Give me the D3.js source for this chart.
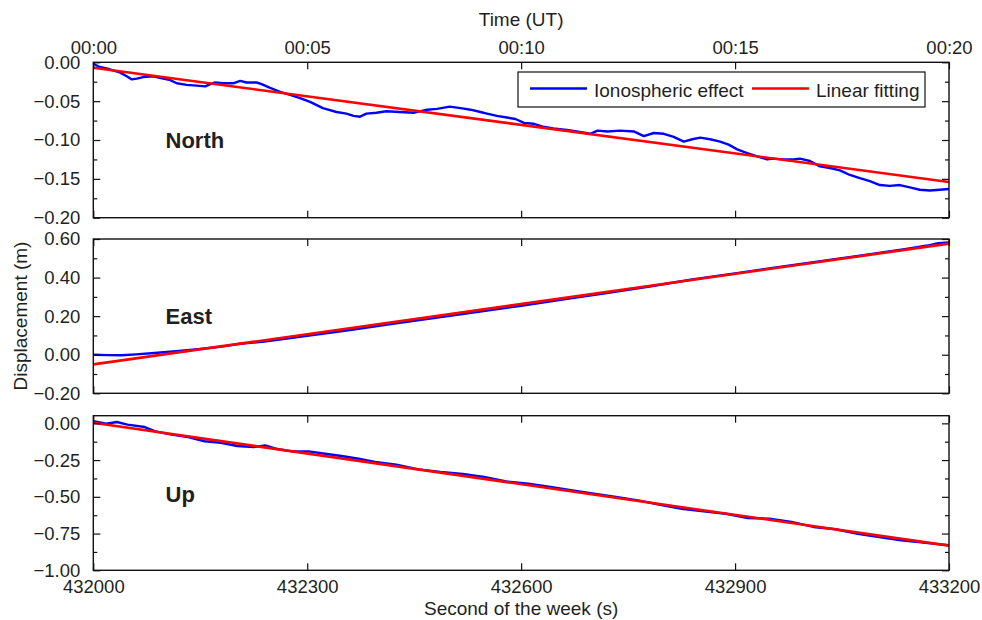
<!DOCTYPE html>
<html>
<head>
<meta charset="utf-8">
<script src="https://cdn.jsdelivr.net/npm/d3@7"></script>
<style>
  html, body { margin: 0; padding: 0; background: #fff; }
  svg { display: block; }
  text { font-family: "Liberation Sans", Arial, Helvetica, sans-serif; fill: #231f20; }
</style>
</head>
<body>
<svg id="chart" width="982" height="620"></svg>
<script>
// Time axis (second of the GPS week) and matching UT clock labels
const xTicks = [432000, 432300, 432600, 432900, 433200];
const utLabels = ["00:00", "00:05", "00:10", "00:15", "00:20"];

// North component: ionospheric displacement (m)
const northSec = [432000,432009,432023,432037,432047,432054,432061,432070,432084,432098,432108,432117,432131,432145,432157,432164,432171,432182,432196,432206,432215,432229,432236,432248,432262,432276,432290,432304,432322,432341,432355,432365,432374,432383,432397,432411,432430,432449,432468,432482,432500,432515,432529,432543,432552,432566,432580,432592,432604,432617,432631,432645,432664,432678,432697,432707,432721,432739,432758,432772,432786,432800,432814,432828,432840,432851,432865,432879,432891,432903,432917,432931,432945,432954,432968,432982,432991,433005,433019,433033,433047,433061,433075,433089,433103,433117,433131,433145,433159,433173,433187,433200];
const northVal = [-0.002,-0.006,-0.009,-0.013,-0.018,-0.022,-0.021,-0.019,-0.018,-0.021,-0.023,-0.027,-0.029,-0.030,-0.031,-0.028,-0.026,-0.027,-0.027,-0.024,-0.026,-0.026,-0.028,-0.033,-0.038,-0.042,-0.046,-0.051,-0.059,-0.064,-0.066,-0.069,-0.070,-0.066,-0.065,-0.063,-0.064,-0.065,-0.061,-0.060,-0.057,-0.059,-0.061,-0.064,-0.066,-0.069,-0.071,-0.073,-0.078,-0.079,-0.083,-0.085,-0.087,-0.089,-0.092,-0.088,-0.089,-0.088,-0.089,-0.095,-0.091,-0.092,-0.096,-0.102,-0.099,-0.097,-0.099,-0.102,-0.106,-0.112,-0.117,-0.121,-0.125,-0.124,-0.125,-0.125,-0.124,-0.127,-0.134,-0.136,-0.139,-0.145,-0.149,-0.153,-0.158,-0.159,-0.158,-0.161,-0.164,-0.165,-0.164,-0.163];

// East component
const eastSec = [432000,432020,432040,432060,432090,432120,432150,432180,432206,432240,432300,432360,432420,432480,432540,432600,432660,432720,432780,432840,432900,432960,433020,433080,433140,433170,433185,433200];
const eastVal = [0.000,-0.002,-0.003,0.002,0.010,0.020,0.030,0.042,0.057,0.068,0.098,0.128,0.160,0.192,0.223,0.254,0.287,0.320,0.354,0.390,0.422,0.454,0.485,0.516,0.549,0.566,0.578,0.582];

// Up component
const upSec = [432000,432018,432033,432048,432072,432087,432110,432133,432156,432179,432202,432225,432241,432256,432279,432302,432325,432348,432372,432395,432425,432456,432487,432518,432548,432579,432610,432641,432672,432702,432733,432764,432795,432825,432856,432887,432918,432948,432979,433010,433041,433072,433102,433133,433164,433200];
const upVal = [0.014,-0.003,0.009,-0.009,-0.025,-0.055,-0.077,-0.093,-0.122,-0.132,-0.154,-0.161,-0.150,-0.173,-0.191,-0.191,-0.207,-0.222,-0.241,-0.263,-0.282,-0.313,-0.331,-0.345,-0.365,-0.395,-0.411,-0.433,-0.456,-0.479,-0.501,-0.524,-0.554,-0.581,-0.599,-0.615,-0.644,-0.649,-0.671,-0.705,-0.721,-0.751,-0.773,-0.796,-0.812,-0.830];

// Linear fits: values at the start and end of the interval
const fitSec = [432000, 433200];
const northFit = [-0.007, -0.154];
const eastFit = [-0.050, 0.576];
const upFit = [0.004, -0.832];

// Panel definitions
const panelNames = ["North", "East", "Up"];
const panelDomains = [[-0.20, 0.00], [-0.20, 0.60], [-1.00, 0.052]];
const majorTicks = [
  [-0.20, -0.15, -0.10, -0.05, 0.00],
  [-0.20, 0.00, 0.20, 0.40, 0.60],
  [-1.00, -0.75, -0.50, -0.25, 0.00]
];
const minorTicks = [
  [-0.175, -0.125, -0.075, -0.025],
  [-0.10, 0.10, 0.30, 0.50],
  [-0.875, -0.625, -0.375, -0.125]
];
const legendLabels = ["Ionospheric effect", "Linear fitting"];
const seriesColors = ["#0000ff", "#ff0000"];

const svg = d3.select("#chart");
const left = 93.3, right = 949;
const panelBox = [[62.3, 217.7], [239, 393.3], [415.7, 570.3]];
const tickFont = 18.5;
const titleFont = 19;

const x = d3.scaleLinear().domain([432000, 433200]).range([left, right]);

const series = [
  { sec: northSec, val: northVal, fit: northFit },
  { sec: eastSec, val: eastVal, fit: eastFit },
  { sec: upSec, val: upVal, fit: upFit }
];

const nameY = [148.3, 324.3, 501.7];

series.forEach((s, i) => {
  const [top, bottom] = panelBox[i];
  const y = d3.scaleLinear().domain(panelDomains[i]).range([bottom, top]);
  const g = svg.append("g");

  const clipId = "clip" + i;
  svg.append("clipPath").attr("id", clipId)
    .append("rect").attr("x", left).attr("y", top).attr("width", right - left).attr("height", bottom - top);

  const plot = g.append("g").attr("clip-path", `url(#${clipId})`);

  const line = d3.line().x(d => x(d[0])).y(d => y(d[1]));

  // measured displacement
  plot.append("path")
    .datum(s.sec.map((t, k) => [t, s.val[k]]))
    .attr("d", line)
    .attr("fill", "none")
    .attr("stroke", seriesColors[0])
    .attr("stroke-width", 2.4)
    .attr("stroke-linejoin", "round");

  // linear fit
  plot.append("path")
    .datum(fitSec.map((t, k) => [t, s.fit[k]]))
    .attr("d", line)
    .attr("fill", "none")
    .attr("stroke", seriesColors[1])
    .attr("stroke-width", 2.6);

  // y axes: labelled on the left, ticks pointing inward on both sides
  const fmt = d3.format(".2f");
  g.append("g").attr("transform", `translate(${left},0)`)
    .call(d3.axisLeft(y).tickValues(majorTicks[i]).tickSize(-7).tickPadding(13).tickFormat(fmt));
  g.append("g").attr("transform", `translate(${left},0)`)
    .call(d3.axisLeft(y).tickValues(minorTicks[i]).tickSize(-4).tickFormat(""));
  g.append("g").attr("transform", `translate(${right},0)`)
    .call(d3.axisRight(y).tickValues(majorTicks[i]).tickSize(-7).tickFormat(""));
  g.append("g").attr("transform", `translate(${right},0)`)
    .call(d3.axisRight(y).tickValues(minorTicks[i]).tickSize(-4).tickFormat(""));

  // x ticks on top and bottom edges, pointing inward
  g.append("g").attr("transform", `translate(0,${top})`)
    .call(d3.axisTop(x).tickValues(xTicks).tickSize(-7).tickFormat(""));
  g.append("g").attr("transform", `translate(0,${bottom})`)
    .call(d3.axisBottom(x).tickValues(xTicks).tickSize(-7).tickPadding(10)
      .tickFormat(i === 2 ? d3.format("d") : ""));

  g.selectAll(".domain").remove();
  g.selectAll(".tick line").attr("stroke", "#111").attr("stroke-width", 1.2);
  g.selectAll(".tick text").attr("font-size", tickFont)
    .attr("font-family", '"Liberation Sans", Arial, sans-serif').attr("fill", "#231f20");

  // frame
  g.append("rect")
    .attr("x", left).attr("y", top)
    .attr("width", right - left).attr("height", bottom - top)
    .attr("fill", "none").attr("stroke", "#111").attr("stroke-width", 1.4);

  // component name
  g.append("text")
    .attr("x", 165.5).attr("y", nameY[i])
    .attr("font-size", 22).attr("font-weight", "bold")
    .text(panelNames[i]);
});

// Top UT axis labels
const topAxis = svg.append("g").attr("transform", `translate(0,${panelBox[0][0]})`)
  .call(d3.axisTop(x).tickValues(xTicks).tickSize(0).tickPadding(8)
    .tickFormat((d, k) => utLabels[k]));
topAxis.select(".domain").remove();
topAxis.selectAll("text").attr("font-size", tickFont)
  .attr("font-family", '"Liberation Sans", Arial, sans-serif').attr("fill", "#231f20");

// Axis titles
svg.append("text").attr("x", (left + right) / 2).attr("y", 26)
  .attr("text-anchor", "middle").attr("font-size", titleFont).text("Time (UT)");
svg.append("text").attr("x", (left + right) / 2).attr("y", 615)
  .attr("text-anchor", "middle").attr("font-size", titleFont).text("Second of the week (s)");
svg.append("text")
  .attr("transform", "translate(27,316) rotate(-90)")
  .attr("text-anchor", "middle").attr("font-size", titleFont).text("Displacement (m)");

// Legend
const legend = svg.append("g");
legend.append("rect")
  .attr("x", 518).attr("y", 72).attr("width", 407).attr("height", 35)
  .attr("fill", "#fff").attr("stroke", "#111").attr("stroke-width", 1.2);
const legendX = [530, 752];
legendLabels.forEach((lab, k) => {
  legend.append("line")
    .attr("x1", legendX[k]).attr("x2", legendX[k] + 57)
    .attr("y1", 88.5).attr("y2", 88.5)
    .attr("stroke", seriesColors[k]).attr("stroke-width", 2.4);
  legend.append("text")
    .attr("x", legendX[k] + 64).attr("y", 96.5)
    .attr("font-size", titleFont).text(lab);
});
</script>
</body>
</html>
